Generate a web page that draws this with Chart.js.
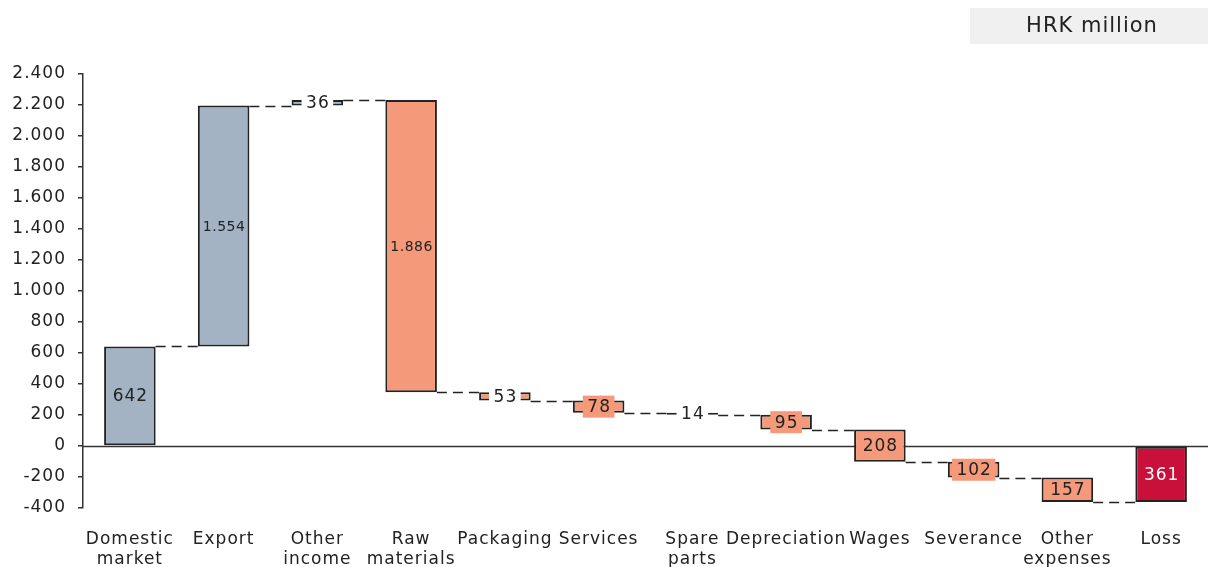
<!DOCTYPE html>
<html>
<head>
<meta charset="utf-8">
<title>Waterfall – HRK million</title>
<script src="https://cdn.jsdelivr.net/npm/chart.js@4.4.1/dist/chart.umd.min.js"></script>
<style>
  html, body { margin: 0; padding: 0; background: #ffffff; }
  #wrap { width: 1208px; height: 567px; position: relative; }
</style>
</head>
<body>
<div id="wrap"><canvas id="chart" width="1208" height="567"></canvas></div>
<script>
// Categories (multi-line labels as arrays)
const categories = [
  ['Domestic', 'market'], 'Export', ['Other', 'income'], ['Raw', 'materials'],
  'Packaging', 'Services', ['Spare', 'parts'], 'Depreciation', 'Wages',
  'Severance', ['Other', 'expenses'], 'Loss'
];
// Amounts per category (HRK million)
const amounts = [642, 1554, 36, 1886, 53, 78, 14, 95, 208, 102, 157, 361];
// How each amount moves the running total
const kinds = ['income', 'income', 'income', 'expense', 'expense', 'expense',
               'expense', 'expense', 'expense', 'expense', 'expense', 'loss'];
// Y-axis range and step
const yTicks = { min: -400, max: 2400, step: 200 };
const unitLabel = 'HRK million';

const palette = { income: '#a3b3c3', expense: '#f4997a', loss: '#c8103a' };
const FONT = '"DejaVu Sans", Verdana, sans-serif';

function fmt(v) {
  const neg = v < 0;
  const s = String(Math.abs(v)).replace(/\B(?=(\d{3})+(?!\d))/g, '.');
  return (neg ? '-' : '') + s;
}

// Floating ranges built from the running total
const ranges = [];
const levels = [];
let running = 0;
kinds.forEach((k, i) => {
  if (k === 'income') {
    ranges.push([running, running + amounts[i]]);
    running += amounts[i];
  } else if (k === 'expense') {
    ranges.push([running, running - amounts[i]]);
    running -= amounts[i];
  } else {
    ranges.push([0, -amounts[i]]);
  }
  levels.push(running);
});

// Slightly wider text tracking for all canvas text
// (re-applied because resizing the canvas resets the context state)
const tracking = {
  id: 'tracking',
  beforeLayout(chart) { chart.ctx.letterSpacing = '1px'; },
  beforeDraw(chart) { chart.ctx.letterSpacing = '1px'; }
};

// Zero line beneath the bars
const zeroLine = {
  id: 'zeroLine',
  beforeDatasetsDraw(chart) {
    const { ctx, chartArea, scales } = chart;
    const y = Math.round(scales.y.getPixelForValue(0)) + 0.5;
    ctx.save();
    ctx.strokeStyle = '#333';
    ctx.lineWidth = 1.5;
    ctx.beginPath();
    ctx.moveTo(chartArea.left, y);
    ctx.lineTo(chartArea.right, y);
    ctx.stroke();
    ctx.restore();
  }
};

// Dashed connectors and value labels
const waterfallDecor = {
  id: 'waterfallDecor',
  afterDatasetsDraw(chart) {
    const { ctx, scales } = chart;
    const meta = chart.getDatasetMeta(0);
    const bars = meta.data;
    ctx.save();
    // connectors
    ctx.strokeStyle = '#222';
    ctx.lineWidth = 1.5;
    ctx.setLineDash([10, 6]);
    for (let i = 0; i < bars.length - 1; i++) {
      const a = bars[i].getProps(['x', 'width'], true);
      const b = bars[i + 1].getProps(['x', 'width'], true);
      const lvl = kinds[i + 1] === 'loss' ? -amounts[i + 1] : levels[i];
      const y = Math.round(scales.y.getPixelForValue(lvl)) + 0.5;
      ctx.beginPath();
      ctx.moveTo(a.x + a.width / 2, y);
      ctx.lineTo(b.x - b.width / 2, y);
      ctx.stroke();
    }
    ctx.setLineDash([]);
    // labels
    bars.forEach((bar, i) => {
      const p = bar.getProps(['x', 'y', 'base', 'width'], true);
      const cy = (p.y + p.base) / 2;
      const h = Math.abs(p.base - p.y);
      const size = amounts[i] >= 1000 ? 14 : 17;
      ctx.font = size + 'px ' + FONT;
      ctx.letterSpacing = size >= 17 ? '1px' : '0.5px';
      const text = fmt(amounts[i]);
      const w = ctx.measureText(text).width;
      const boxH = 22;
      if (h < boxH) {
        ctx.fillStyle = h < 10 ? '#ffffff' : palette[kinds[i]];
        ctx.fillRect(p.x - w / 2 - 4, cy - boxH / 2, w + 8, boxH);
      }
      ctx.fillStyle = kinds[i] === 'loss' ? '#ffffff' : '#222';
      ctx.textAlign = 'center';
      ctx.textBaseline = 'middle';
      ctx.fillText(text, p.x + 0.5, cy + 1);
    });
    ctx.restore();
  }
};

// Unit caption box in the top-right corner
const unitBox = {
  id: 'unitBox',
  afterDraw(chart) {
    const { ctx } = chart;
    ctx.save();
    ctx.fillStyle = '#f0f0f0';
    ctx.fillRect(970, 8, 238, 36);
    ctx.fillStyle = '#222';
    ctx.font = '21px ' + FONT;
    ctx.letterSpacing = '1px';
    ctx.textAlign = 'center';
    ctx.textBaseline = 'middle';
    ctx.fillText(unitLabel, 1092, 27);
    ctx.restore();
  }
};

new Chart(document.getElementById('chart'), {
  type: 'bar',
  data: {
    labels: categories,
    datasets: [{
      data: ranges,
      backgroundColor: kinds.map(k => palette[k]),
      borderColor: '#222',
      borderWidth: 2,
      borderSkipped: false,
      barPercentage: 0.55,
      categoryPercentage: 1
    }]
  },
  options: {
    responsive: false,
    animation: false,
    devicePixelRatio: 1,
    layout: { padding: { top: 74, right: 0, bottom: 0, left: 0 } },
    plugins: {
      legend: { display: false },
      tooltip: { enabled: false },
      title: { display: false }
    },
    scales: {
      x: {
        grid: { display: false },
        border: { display: false },
        ticks: {
          color: '#222',
          font: { family: FONT, size: 17 },
          padding: 13,
          maxRotation: 0,
          autoSkip: false
        },
        afterFit(s) { s.height = 59; }
      },
      y: {
        min: yTicks.min,
        max: yTicks.max,
        grid: { drawOnChartArea: false, tickLength: 5, color: '#333', lineWidth: 1.5 },
        border: { display: true, color: '#333', width: 1.5 },
        ticks: {
          stepSize: yTicks.step,
          color: '#222',
          font: { family: FONT, size: 17 },
          padding: 12,
          callback: v => fmt(v)
        },
        afterFit(s) { s.width = 83; }
      }
    }
  },
  plugins: [tracking, zeroLine, waterfallDecor, unitBox]
});
</script>
</body>
</html>
